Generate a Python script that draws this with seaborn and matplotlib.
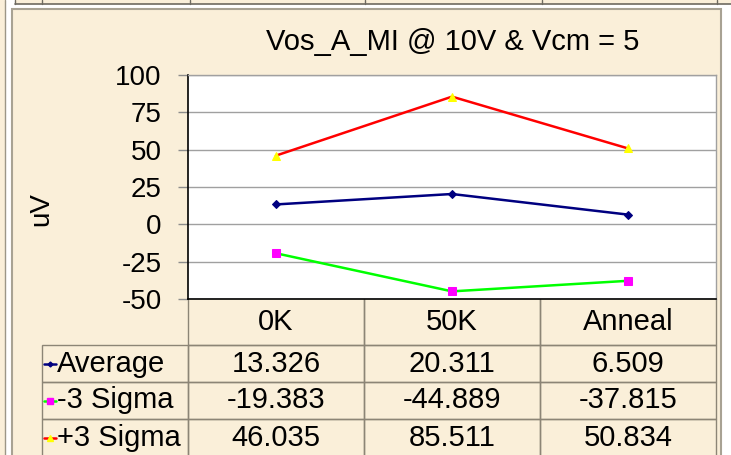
"""Vos_A_MI @ 10V & Vcm = 5: line chart with an Excel style data table below."""

import numpy as np
import pandas as pd
import matplotlib.pyplot as plt
from matplotlib.lines import Line2D
from matplotlib.patches import Rectangle
import seaborn as sns

# Data
categories = ["0K", "50K", "Anneal"]
series_names = ["Average", "-3 Sigma", "+3 Sigma"]
average = [13.326, 20.311, 6.509]
minus_3_sigma = [-19.383, -44.889, -37.815]
plus_3_sigma = [46.035, 85.511, 50.834]
y_ticks = [-50, -25, 0, 25, 50, 75, 100]

title = "Vos_A_MI @ 10V & Vcm = 5"
y_label = "uV"

W, H = 731, 455
BG = "#FAEFD9"
EDGE = "#8C8576"


def px(x, y):
    """pixel position (top-left origin) -> figure fraction"""
    return x / W, 1 - y / H


def main() -> None:
    sns.set_style("white")
    plt.rcParams["font.family"] = ["Liberation Sans", "DejaVu Sans"]
    plt.rcParams["text.color"] = "black"
    plt.rcParams["axes.unicode_minus"] = False

    fig = plt.figure(figsize=(W / 100, H / 100), dpi=100, facecolor="white")

    # spreadsheet surroundings and chart area (kept behind the axes)
    deco = dict(transform=fig.transFigure, zorder=-5)
    fig.add_artist(Rectangle(px(0, H), 5 / W, 1, facecolor=BG, edgecolor="none", **deco))
    fig.add_artist(Line2D([5 / W, 5 / W], [0, 1], color="#9C9686", lw=1, **deco))
    fig.add_artist(Rectangle(px(15, 3.5), 1, 3.5 / H, facecolor=BG, edgecolor="none", **deco))
    fig.add_artist(Line2D([15 / W, 1], [1 - 3.5 / H] * 2, color="#6E6A60", lw=1.2, **deco))
    for xc in [15, 42, 190, 365, 542, 717]:
        fig.add_artist(Line2D([xc / W] * 2, [1 - 3.5 / H, 1], color="#6E6A60", lw=1, **deco))
    x0, y0 = px(12, H + 5)
    x1, y1 = px(721, 9)
    fig.add_artist(Rectangle((x0, y0), x1 - x0, y1 - y0, facecolor=BG,
                             edgecolor="#A8A293", lw=1.5, **deco))

    # plot area
    l, t = px(188, 75)
    r, b = px(716, 299)
    ax = fig.add_axes([l, b, r - l, t - b])
    ax.set_facecolor("white")

    df = pd.DataFrame({"category": categories, "Average": average,
                       "-3 Sigma": minus_3_sigma, "+3 Sigma": plus_3_sigma})

    styles = {
        "Average": dict(color="#000080", marker="D", markersize=4,
                        markerfacecolor="#000080", markeredgecolor="#000080"),
        "-3 Sigma": dict(color="#00FF00", marker="s", markersize=6,
                         markerfacecolor="#FF00FF", markeredgecolor="#FF00FF"),
        "+3 Sigma": dict(color="#FF0000", marker="^", markersize=6,
                         markerfacecolor="#FFFF00", markeredgecolor="#FFFF00"),
    }
    for name in series_names:
        sns.lineplot(data=df, x="category", y=name, sort=False, lw=1.8, ax=ax,
                     **styles[name])

    ax.set_xlim(-0.5, len(categories) - 0.5)
    ax.set_ylim(min(y_ticks), max(y_ticks))
    ax.set_yticks(y_ticks)
    ax.set_xticks([])
    ax.set_xlabel("")
    ax.set_ylabel("")
    ax.yaxis.grid(True, color="#A0A0A0", lw=1)
    ax.set_axisbelow(True)
    ax.tick_params(axis="y", left=True, length=7, width=1, color="#8C8C8C",
                   pad=12, labelsize=20, labelcolor="black")
    for side in ["left", "bottom"]:
        ax.spines[side].set_color("black")
        ax.spines[side].set_linewidth(1.2)
    for side in ["top", "right"]:
        ax.spines[side].set_color("#A0A0A0")
        ax.spines[side].set_linewidth(1)

    fig.text(*px(453, 42), title, ha="center", va="center", fontsize=21, color="black")
    fig.text(*px(41, 209), y_label, ha="center", va="center", rotation=90,
             fontsize=20, color="black")

    # data table
    cell_text = [[name] + [f"{v:.3f}" for v in df[name]] for name in series_names]
    label_w, col_w = 146, 176
    tbl = ax.table(cellText=cell_text, colLabels=[""] + categories,
                   colWidths=[label_w, col_w, col_w, col_w], cellLoc="center",
                   bbox=[(42 - 188) / 528, -157 / 224, 674 / 528, 157 / 224])
    tbl.auto_set_font_size(False)
    tbl.set_fontsize(21)
    for (row, col), cell in tbl.get_celld().items():
        cell.set_facecolor("none")
        cell.set_edgecolor(EDGE)
        cell.set_linewidth(1)
        cell.set_height(46 if row == 0 else 37)
        cell.get_text().set_color("black")
        if row == 0:
            cell.visible_edges = "" if col == 0 else "BLR"
        if col == 0 and row > 0:
            cell.set_text_props(ha="left")

    # legend keys inside the row label cells
    fig.canvas.draw()
    renderer = fig.canvas.get_renderer()
    inv = fig.transFigure.inverted()
    for i, name in enumerate(series_names):
        bb = tbl[i + 1, 0].get_window_extent(renderer)
        yc = bb.y0 + bb.height / 2
        (ka, kb) = inv.transform([(bb.x0 + 2, yc), (bb.x0 + 14, yc)])
        st = styles[name]
        fig.add_artist(Line2D([ka[0], kb[0]], [ka[1], kb[1]], color=st["color"], lw=1.8))
        fig.add_artist(Line2D([(ka[0] + kb[0]) / 2], [ka[1]], ls="none",
                              marker=st["marker"], markersize=st["markersize"] - 1.5,
                              markerfacecolor=st["markerfacecolor"],
                              markeredgecolor=st["markeredgecolor"]))

    fig.savefig("out.png", dpi=100, facecolor=fig.get_facecolor())
    plt.close(fig)


if __name__ == "__main__":
    main()
